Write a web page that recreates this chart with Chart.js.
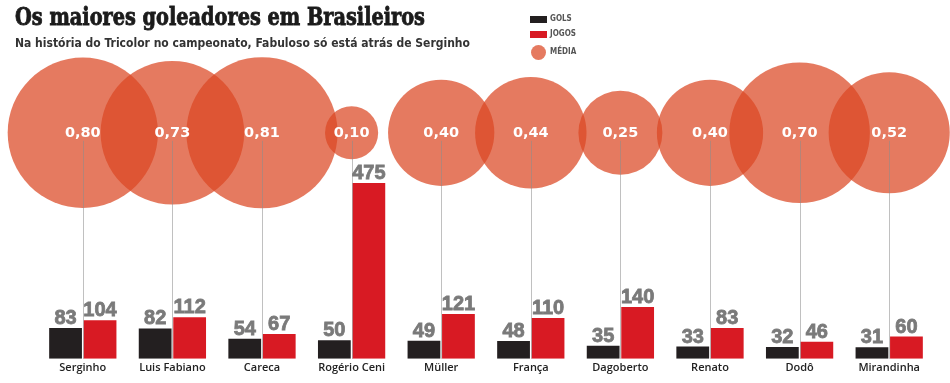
<!DOCTYPE html>
<html><head><meta charset="utf-8">
<script src="https://cdn.jsdelivr.net/npm/chart.js@4/dist/chart.umd.min.js"></script>
<style>
html,body{margin:0;padding:0;background:#fff;}
#wrap{position:relative;width:950px;height:383px;overflow:hidden;background:#fff;}
#c{position:absolute;left:0;top:0;}
.t{position:absolute;white-space:nowrap;transform-origin:0 0;}
#title{left:15px;top:2px;font:700 25px "DejaVu Serif",serif;color:#1b1b1b;line-height:30px;-webkit-text-stroke:0.9px #1b1b1b;}
#sub{left:15px;top:35px;font:700 13px "Liberation Sans Narrow","DejaVu Sans Condensed",sans-serif;color:#333;line-height:16px;}
.lg{position:absolute;font:600 8px "Liberation Sans Narrow","DejaVu Sans Condensed",sans-serif;color:#555;line-height:10px;}
.sw{position:absolute;}
</style></head>
<body>
<div id="wrap">
  <canvas id="c" width="950" height="383"></canvas>
  <div id="title" class="t">Os maiores goleadores em Brasileiros</div>
  <div id="sub" class="t">Na história do Tricolor no campeonato, Fabuloso só está atrás de Serginho</div>
  <div class="sw" style="left:530px;top:16px;width:17px;height:7px;background:#231f20"></div>
  <div class="lg" style="left:550px;top:14px">GOLS</div>
  <div class="sw" style="left:530px;top:31px;width:17px;height:7px;background:#d81a23"></div>
  <div class="lg" style="left:550px;top:29px">JOGOS</div>
  <div class="sw" style="left:531px;top:45px;width:15px;height:15px;border-radius:50%;background:rgba(219,70,34,0.72)"></div>
  <div class="lg" style="left:550px;top:47px">MÉDIA</div>
</div>
<script>
const PLAYERS = ['Serginho','Luis Fabiano','Careca','Rogério Ceni','Müller','França','Dagoberto','Renato','Dodô','Mirandinha'];
const GOLS  = [83, 82, 54, 50, 49, 48, 35, 33, 32, 31];
const JOGOS = [104, 112, 67, 475, 121, 110, 140, 83, 46, 60];
const MEDIA = [0.80, 0.73, 0.81, 0.10, 0.40, 0.44, 0.25, 0.40, 0.70, 0.52];

function fit(id, w){ const el=document.getElementById(id); const r=el.getBoundingClientRect().width; el.style.transform='scaleX('+(w/r)+')'; }
fit('title', 410); fit('sub', 455);

const RADIUS_K = 84;      // bubble radius (px) per sqrt(média) — area-proportional
const BUBBLE_ROW = 0.63;  // vertical position of the bubble row on its own axis

const fmt = v => v.toFixed(2).replace('.', ',');

const labelPlugin = {
  id: 'labels',
  afterDatasetsDraw(chart){
    const ctx = chart.ctx, xs = chart.scales.x, ys = chart.scales.y;
    const bub = chart.getDatasetMeta(2);
    ctx.save();
    ctx.strokeStyle = 'rgba(140,140,140,0.55)';
    ctx.lineWidth = 1;
    PLAYERS.forEach((p, i) => {
      const px = Math.round(xs.getPixelForValue(i)) + 0.5;
      ctx.beginPath();
      ctx.moveTo(px, bub.data[i].y + 8);
      ctx.lineTo(px, ys.getPixelForValue(0));
      ctx.stroke();
    });
    ctx.fillStyle = '#ffffff';
    ctx.font = 'bold 14.5px "DejaVu Sans", sans-serif';
    ctx.textAlign = 'center';
    ctx.textBaseline = 'middle';
    bub.data.forEach((el, i) => ctx.fillText(fmt(MEDIA[i]), el.x, el.y));
    ctx.fillStyle = '#7a7a7a';
    ctx.strokeStyle = '#7a7a7a';
    ctx.lineWidth = 0.8;
    ctx.font = 'bold 20px "Liberation Sans", Arial, sans-serif';
    ctx.textBaseline = 'alphabetic';
    [0, 1].forEach(d => {
      const meta = chart.getDatasetMeta(d);
      const vals = d === 0 ? GOLS : JOGOS;
      meta.data.forEach((el, i) => {
        ctx.fillText(String(vals[i]), el.x, el.y - 4);
        ctx.strokeText(String(vals[i]), el.x, el.y - 4);
      });
    });
    ctx.restore();
  }
};

new Chart(document.getElementById('c'), {
  type: 'bar',
  data: {
    labels: PLAYERS,
    datasets: [
      { label: 'GOLS', data: GOLS, backgroundColor: '#231f20', yAxisID: 'y', order: 2,
        categoryPercentage: 0.77, barPercentage: 0.95 },
      { label: 'JOGOS', data: JOGOS, backgroundColor: '#d81a23', yAxisID: 'y', order: 2,
        categoryPercentage: 0.77, barPercentage: 0.95 },
      { type: 'bubble', label: 'MÉDIA', yAxisID: 'yb', order: 1, clip: false,
        data: PLAYERS.map((p, i) => ({ x: p, y: BUBBLE_ROW, r: RADIUS_K * Math.sqrt(MEDIA[i]) })),
        backgroundColor: 'rgba(219,70,34,0.72)', borderWidth: 0 }
    ]
  },
  options: {
    responsive: false,
    animation: false,
    events: [],
    layout: { autoPadding: false, padding: { left: 38, right: 16, top: 0, bottom: 7 } },
    plugins: { legend: { display: false }, tooltip: { enabled: false }, title: { display: false } },
    scales: {
      x: { offset: true, grid: { display: false, drawTicks: false }, border: { display: false },
           ticks: { padding: 2, color: '#222', font: { family: '"Open Sans", sans-serif', size: 11, weight: '600' } } },
      y: { display: false, min: 0, max: 970 },
      yb: { display: false, min: 0, max: 1, position: 'right' }
    }
  },
  plugins: [labelPlugin]
});
</script>
</body></html>
